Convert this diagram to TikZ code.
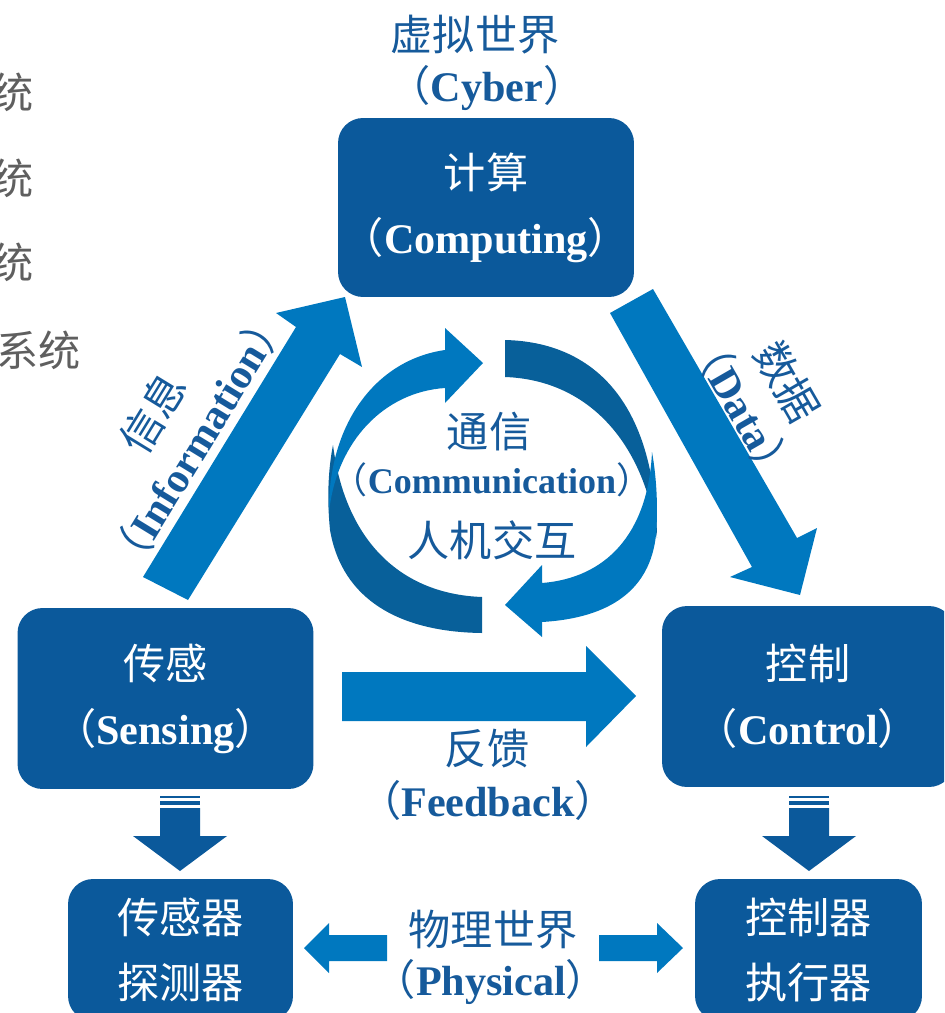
\documentclass[tikz,border=0pt]{standalone}
\usepackage{fontspec}
\setmainfont{Liberation Serif}
\newfontfamily\cjk{Noto Sans CJK SC}

\definecolor{boxblue}{RGB}{11,89,155}
\definecolor{arrowblue}{RGB}{0,120,191}
\definecolor{ringdark}{RGB}{8,96,154}
\definecolor{labelblue}{RGB}{22,90,155}
\definecolor{sidegrey}{RGB}{95,95,95}

\newcommand{\cnparen}[1]{{\cjk （}\textbf{#1}{\cjk ）}}

\begin{document}
\begin{tikzpicture}[x=0.02cm, y=-0.02cm,
  box/.style={fill=boxblue, rounded corners=0.5cm, text=white, align=center,
    inner sep=0pt, font=\fontsize{24}{37}\selectfont},
  label/.style={text=labelblue, align=center, inner sep=0pt,
    font=\fontsize{24}{30}\selectfont},
  side/.style={text=sidegrey, anchor=east, inner sep=0pt,
    font=\fontsize{24}{30}\selectfont\cjk}]
  \clip (0,0) rectangle (944,1013);

  % Cut-off text on the left
  \node[side] (s1) at (34,92) {统};
  \node[side] (s2) at (34,178) {统};
  \node[side] (s3) at (34,262) {统};
  \node[side] (s4) at (81,350) {系统};

  % Cyber world
  \node[label] (cyber) at (475,35) {\cjk 虚拟世界};
  \node[label] (cyberen) at (487,88) {\cnparen{Cyber}};

  % Boxes
  \node[box, minimum width=5.92cm, minimum height=3.58cm] (comp) at (486,207.5)
    {{\cjk 计算}\\\cnparen{Computing}};
  \node[box, minimum width=5.92cm, minimum height=3.62cm] (sens) at (165.5,698.5)
    {{\cjk 传感}\\\cnparen{Sensing}};
  \node[box, minimum width=5.84cm, minimum height=3.62cm] (ctrl) at (808,696.5)
    {{\cjk 控制}\\\cnparen{Control}};
  \node[box, minimum width=4.5cm, minimum height=2.84cm] (sensdev) at (180.5,950)
    {\cjk 传感器\\\cjk 探测器};
  \node[box, minimum width=4.54cm, minimum height=2.84cm] (ctrldev) at (808.5,950)
    {\cjk 控制器\\\cjk 执行器};

  % Information arrow
  \fill[arrowblue] (143,577) -- (296,327) -- (276,313) -- (345,297) -- (362,367)
    -- (340,354) -- (188,600) -- cycle;
  \node[label, rotate=58.5] (info) at (197,440) {\cnparen{Information}};
  \node[label, rotate=58.5] (infocn) at (153,413) {\cjk 信息};

  % Data arrow
  \fill[arrowblue] (610,313) -- (752,567) -- (730,577) -- (800,595) -- (817,528)
    -- (797,538) -- (653,289) -- cycle;
  \node[label, rotate=-60] (data) at (743,408) {\cnparen{Data}};
  \node[label, rotate=-60] (datacn) at (787,382) {\cjk 数据};

  % Feedback arrow
  \fill[arrowblue] (342,672) -- (586,672) -- (586,646) -- (636,696) -- (586,747)
    -- (586,721) -- (342,721) -- cycle;
  \node[label] (fb) at (487,749) {\cjk 反馈};
  \node[label] (fben) at (488,800) {\cnparen{Feedback}};

  % Down arrows
  \foreach \cx in {180,809} {
    \fill[boxblue] (\cx-20,796) rectangle (\cx+20,798);
    \fill[boxblue] (\cx-20,801) rectangle (\cx+20,805);
    \fill[boxblue] (\cx-20,808) -- (\cx+20,808) -- (\cx+20,836) -- (\cx+47,836)
      -- (\cx,871) -- (\cx-47,836) -- (\cx-20,836) -- cycle;
  }

  % Physical world
  \fill[arrowblue] (387,935) -- (329,935) -- (329,923) -- (304,948) -- (329,973)
    -- (329,961) -- (387,961) -- cycle;
  \fill[arrowblue] (599,935) -- (657,935) -- (657,923) -- (683,948) -- (657,973)
    -- (657,961) -- (599,961) -- cycle;
  \node[label] (phy) at (493,930) {\cjk 物理世界};
  \node[label] (phyen) at (491,982) {\cnparen{Physical}};

  % Communication ring
  \fill[ringdark] (333,445) .. controls (328,470) and (327,500) .. (330,530)
    .. controls (342,600) and (400,632) .. (482,633)
    -- (482,597) .. controls (400,594) and (345,540) .. (333,445) -- cycle;
  \fill[arrowblue] (445,350) .. controls (375,360) and (328,425) .. (329,512)
    .. controls (337,440) and (385,392) .. (445,388) -- (445,403) -- (483,363)
    -- (445,328) -- cycle;
  \fill[ringdark] (505,340) .. controls (592,342) and (655,400) .. (657,538)
    .. controls (645,445) and (590,380) .. (505,377) -- cycle;
  \fill[arrowblue] (652,452) .. controls (657,480) and (658,510) .. (656,535)
    .. controls (650,590) and (610,618) .. (542,622)
    -- (542,637) -- (505,605) -- (542,565) -- (542,583)
    .. controls (605,578) and (648,535) .. (652,452) -- cycle;
  \node[label] (comm) at (489,432) {\cjk 通信};
  \node[label, font=\fontsize{20.5}{26}\selectfont] (commen) at (492,480)
    {\cnparen{Communication}};
  \node[label] (hci) at (492,540) {\cjk 人机交互};
\end{tikzpicture}
\end{document}
